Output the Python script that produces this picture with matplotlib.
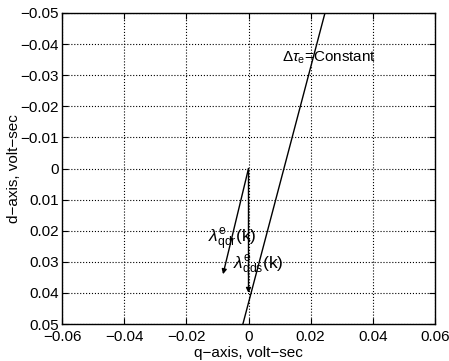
import numpy as np
import matplotlib
matplotlib.use("Agg")
import matplotlib.pyplot as plt

plt.rcParams['font.family'] = ['Liberation Sans', 'DejaVu Sans']
plt.rcParams['mathtext.fontset'] = 'custom'
plt.rcParams['mathtext.rm'] = 'Liberation Sans'
plt.rcParams['mathtext.it'] = 'Liberation Sans:italic'
plt.rcParams['mathtext.sf'] = 'Liberation Sans'

# constant torque line (q, d)
line_q = [-0.0018, 0.0246]
line_d = [0.05, -0.05]

# flux vectors from origin
origin = (0.0, 0.0)
qdr_tip = (-0.0082, 0.034)
qds_tip = (0.0, 0.040)

xticks = [-0.06, -0.04, -0.02, 0, 0.02, 0.04, 0.06]
xlabels = ['-0.06', '-0.04', '-0.02', '0', '0.02', '0.04', '0.06']
yticks = [-0.05, -0.04, -0.03, -0.02, -0.01, 0, 0.01, 0.02, 0.03, 0.04, 0.05]
ylabels = ['-0.05', '-0.04', '-0.03', '-0.02', '-0.01', '0',
           '0.01', '0.02', '0.03', '0.04', '0.05']
xlabels = [s.replace('-', '\u2212') for s in xlabels]
ylabels = [s.replace('-', '\u2212') for s in ylabels]

fig = plt.figure(figsize=(4.49, 3.61), dpi=100)
ax = fig.add_axes([62/449, 1 - 324/361, 373/449, 311/361])

ax.plot(line_q, line_d, color='black', linewidth=1.0)

for tip in (qdr_tip, qds_tip):
    ax.annotate('', xy=tip, xytext=origin,
                arrowprops=dict(arrowstyle='-|>', color='black', lw=1.0,
                                mutation_scale=7, shrinkA=0, shrinkB=0))

ax.text(-0.0130, 0.0228, r'$\lambda^{\mathrm{e}}_{\mathrm{qdr}}\mathrm{(k)}$',
        fontsize=12.5, va='center', ha='left')
ax.text(-0.0050, 0.0315, r'$\lambda^{\mathrm{e}}_{\mathrm{qds}}\mathrm{(k)}$',
        fontsize=12.5, va='center', ha='left')
ax.text(0.0108, -0.0355, r'$\Delta\tau_{\mathrm{e}}$=Constant',
        fontsize=11, va='center', ha='left')

ax.set_xlim(-0.06, 0.06)
ax.set_ylim(0.05, -0.05)
ax.set_xticks(xticks)
ax.set_xticklabels(xlabels)
ax.set_yticks(yticks)
ax.set_yticklabels(ylabels)
ax.tick_params(direction='in', top=True, right=True, labelsize=11, length=4, pad=2)
ax.tick_params(axis='x', pad=4)
ax.grid(True, color='black', linestyle=':', linewidth=0.8)
for s in ax.spines.values():
    s.set_linewidth(1.0)

ax.set_xlabel('q\u2212axis, volt\u2212sec', fontsize=11)
ax.set_ylabel('d\u2212axis, volt\u2212sec', fontsize=11)
ax.xaxis.set_label_coords(0.5, -0.07)
ax.yaxis.set_label_coords(-0.11, 0.5)

fig.savefig('out.png', dpi=100)
